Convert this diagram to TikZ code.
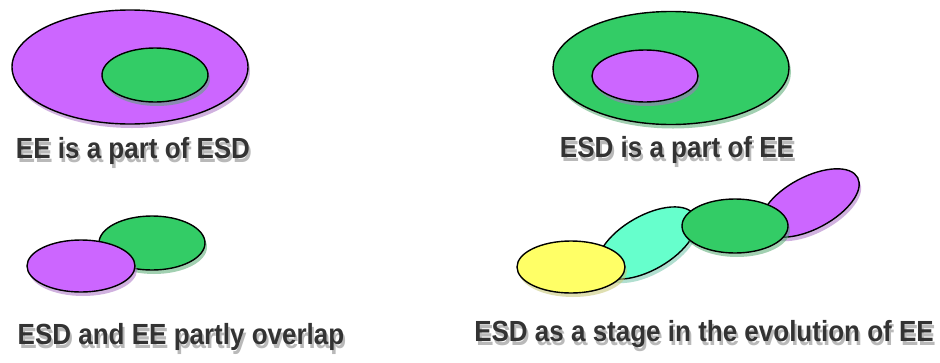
\documentclass[tikz,border=0pt]{standalone}
\usepackage{fontspec}
\setmainfont{Liberation Sans}
\usetikzlibrary{shapes.geometric,shadows}
\definecolor{esdpurple}{HTML}{CC66FF}
\definecolor{eegreen}{HTML}{33CC66}
\definecolor{stagecyan}{HTML}{66FFCC}
\definecolor{stageyellow}{HTML}{FFFF66}
\definecolor{captiondark}{HTML}{333333}
% caption text with a soft grey shadow set behind it
\newcommand\shadedcaption[1]{\scalebox{1}[1.12]{\rlap{\kern2pt\raisebox{-3pt}{\textcolor{gray!55}{#1}}}\textcolor{captiondark}{#1}}}
\tikzset{
  blob/.style args={#1/#2/#3}{ellipse, draw=black, line width=1.4pt, fill=#1,
    minimum width=#2, minimum height=#3, inner sep=0pt,
    drop shadow={shadow xshift=2pt, shadow yshift=-4pt, fill=#1!55!gray, opacity=0.55}},
  caption/.style={font=\bfseries\fontsize{26}{30}\selectfont, inner sep=0pt}
}
\begin{document}
\begin{tikzpicture}[x=1pt,y=-1pt]
\useasboundingbox (0,0) rectangle (940,362);
\fill[white] (0,0) rectangle (940,362);

% EE inside ESD
\node[blob=esdpurple/236pt/114pt] (esd1) at (130,67) {};
\node[blob=eegreen/106pt/54pt] (ee1) at (155,75) {};
\node[caption] (c1) at (133,153) {\shadedcaption{EE is a part of ESD}};

% ESD inside EE
\node[blob=eegreen/236pt/113pt] (ee2) at (671,68) {};
\node[blob=esdpurple/106pt/52pt] (esd2) at (645,76) {};
\node[caption] (c2) at (677,152) {\shadedcaption{ESD is a part of EE}};

% partial overlap
\node[blob=eegreen/106pt/54pt] (ee3) at (152,243) {};
\node[blob=esdpurple/108pt/52pt] (esd3) at (81,266) {};
\node[caption] (c3) at (181,339) {\shadedcaption{ESD and EE partly overlap}};

% evolution chain
\node[blob=esdpurple/108pt/52pt, rotate=28] (esd4) at (810,203) {};
\node[blob=stagecyan/110pt/54pt, rotate=30] (stage4) at (647,243) {};
\node[blob=eegreen/106pt/54pt] (ee4) at (735,226) {};
\node[blob=stageyellow/108pt/52pt] (pre4) at (571,267) {};
\node[caption] (c4) at (704,336) {\shadedcaption{ESD as a stage in the evolution of EE}};
\end{tikzpicture}
\end{document}
